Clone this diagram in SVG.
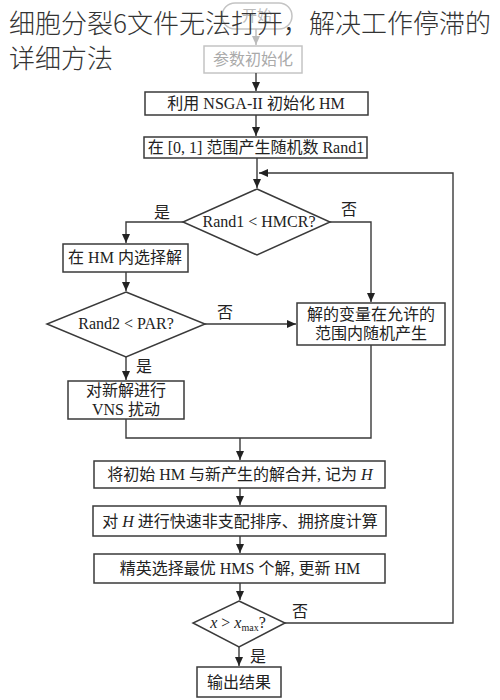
<svg xmlns="http://www.w3.org/2000/svg" width="500" height="700" viewBox="0 0 500 700">
<defs>
<style>
.bx{fill:#fff;stroke:#3a3a3a;stroke-width:1.5}
.fd{fill:#fff;stroke:#c4c4c4;stroke-width:1.5}
.ln{fill:none;stroke:#3a3a3a;stroke-width:1.4}
.t{font-family:"Liberation Serif","Noto Sans CJK SC",serif;font-size:16px;fill:#222;text-anchor:middle}
.lb{font-family:"Liberation Serif","Noto Sans CJK SC",serif;font-size:16px;fill:#222}
.ti{font-family:"Noto Sans CJK SC","Noto Sans",sans-serif;font-size:26px;fill:#333;font-weight:300}
</style>
<marker id="ah" markerWidth="10" markerHeight="10" refX="9" refY="5" orient="auto" markerUnits="userSpaceOnUse">
<path d="M0,1 L9,5 L0,9 z" fill="#222"/>
</marker>
<marker id="ahg" markerWidth="10" markerHeight="10" refX="9" refY="5" orient="auto" markerUnits="userSpaceOnUse">
<path d="M0,1 L9,5 L0,9 z" fill="#bbb"/>
</marker>
</defs>
<rect width="500" height="700" fill="#fff"/>

<g id="start">
<rect class="fd" x="222" y="3" width="70" height="26" rx="13"/>
<text class="t" x="257" y="21" style="fill:#bbb;font-size:15px">开始</text>
</g>
<g id="param">
<rect class="fd" x="204" y="46" width="98" height="27"/>
<text class="t" x="253" y="65" style="fill:#aaa">参数初始化</text>
</g>

<g id="connectors">
<line x1="256" y1="29" x2="256" y2="45" style="fill:none;stroke:#bbb;stroke-width:1.4" marker-end="url(#ahg)"/>
<line class="ln" x1="256" y1="73" x2="256" y2="91" marker-end="url(#ah)"/>
<line class="ln" x1="256" y1="115" x2="256" y2="136" marker-end="url(#ah)"/>
<line class="ln" x1="257" y1="158" x2="257" y2="188" marker-end="url(#ah)"/>
<polyline class="ln" points="183,222 126,222 126,243" marker-end="url(#ah)"/>
<polyline class="ln" points="330,222 371,222 371,302" marker-end="url(#ah)"/>
<line class="ln" x1="126" y1="272" x2="126" y2="291" marker-end="url(#ah)"/>
<line class="ln" x1="205" y1="324" x2="296" y2="324" marker-end="url(#ah)"/>
<line class="ln" x1="126" y1="357" x2="126" y2="380" marker-end="url(#ah)"/>
<polyline class="ln" points="126,419 126,438 371,438 371,345"/>
<line class="ln" x1="240" y1="438" x2="240" y2="460" marker-end="url(#ah)"/>
<line class="ln" x1="240" y1="488" x2="240" y2="505" marker-end="url(#ah)"/>
<line class="ln" x1="240" y1="536" x2="240" y2="553" marker-end="url(#ah)"/>
<line class="ln" x1="240" y1="583" x2="240" y2="600" marker-end="url(#ah)"/>
<polyline class="ln" points="285,623 453,623 453,173 259,173" marker-end="url(#ah)"/>
<line class="ln" x1="239" y1="647" x2="239" y2="666" marker-end="url(#ah)"/>
<text class="lb" x="154" y="218">是</text>
<text class="lb" x="341" y="215">否</text>
<text class="lb" x="217" y="318">否</text>
<text class="lb" x="136" y="372">是</text>
<text class="lb" x="292" y="617">否</text>
<text class="lb" x="250" y="662">是</text>
</g>

<g id="init">
<rect class="bx" x="145" y="92" width="223" height="23"/>
<text class="t" x="256" y="109">利用 NSGA-II 初始化 HM</text>
</g>
<g id="rand1">
<rect class="bx" x="144" y="137" width="223" height="21"/>
<text class="t" x="256" y="153">在 [0, 1] 范围产生随机数 Rand1</text>
</g>
<g id="hmcr">
<polygon class="bx" points="257,189 330,222 257,255 183,222"/>
<text class="t" x="259" y="227">Rand1 &lt; HMCR?</text>
</g>
<g id="select">
<rect class="bx" x="63" y="244" width="125" height="28"/>
<text class="t" x="125" y="263">在 HM 内选择解</text>
</g>
<g id="par">
<polygon class="bx" points="126,292 205,324 126,357 47,324"/>
<text class="t" x="126" y="329">Rand2 &lt; PAR?</text>
</g>
<g id="randgen">
<rect class="bx" x="297" y="303" width="148" height="42"/>
<text class="t" x="371" y="320">解的变量在允许的</text>
<text class="t" x="371" y="339">范围内随机产生</text>
</g>
<g id="vns">
<rect class="bx" x="68" y="381" width="116" height="38"/>
<text class="t" x="126" y="396">对新解进行</text>
<text class="t" x="126" y="415">VNS 扰动</text>
</g>
<g id="merge">
<rect class="bx" x="94" y="461" width="291" height="27"/>
<text class="t" x="240" y="480">将初始 HM 与新产生的解合并, 记为 <tspan font-style="italic">H</tspan></text>
</g>
<g id="sort">
<rect class="bx" x="93" y="506" width="293" height="30"/>
<text class="t" x="240" y="527">对 <tspan font-style="italic">H</tspan> 进行快速非支配排序、拥挤度计算</text>
</g>
<g id="elite">
<rect class="bx" x="94" y="554" width="291" height="29"/>
<text class="t" x="240" y="574">精英选择最优 HMS 个解, 更新 HM</text>
</g>
<g id="xmax">
<polygon class="bx" points="239,601 285,623 239,647 193,623"/>
<text class="t" x="238" y="628"><tspan font-style="italic">x</tspan> &gt; <tspan font-style="italic">x</tspan><tspan font-size="10" dy="3">max</tspan><tspan dy="-3">?</tspan></text>
</g>
<g id="output">
<rect class="bx" x="197" y="667" width="84" height="30"/>
<text class="t" x="239" y="688">输出结果</text>
</g>

<g id="title">
<text class="ti" x="9" y="33">细胞分裂6文件无法打开，解决工作停滞的</text>
<text class="ti" x="9" y="68">详细方法</text>
</g>
</svg>
